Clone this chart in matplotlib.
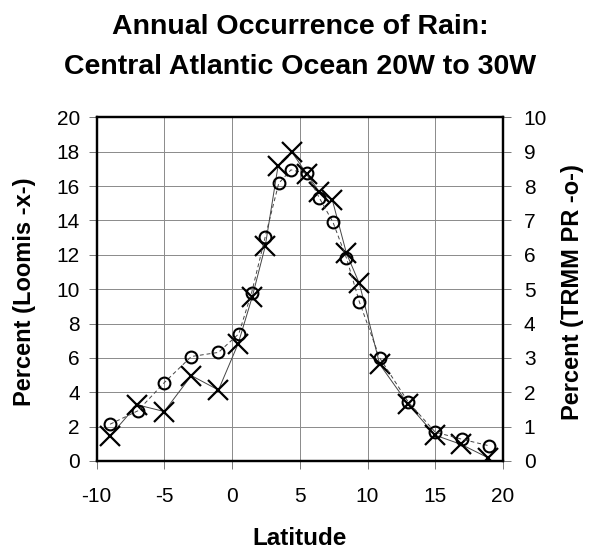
import numpy as np
import matplotlib
matplotlib.use('Agg')
import matplotlib.pyplot as plt

plt.rcParams['font.family'] = ['Liberation Sans', 'DejaVu Sans']
plt.rcParams['axes.unicode_minus'] = False

# Loomis (left axis, percent)
lat_loomis = [-9, -7, -5, -3, -1, 0.45, 1.5, 2.45, 3.4, 4.4,
              5.5, 6.45, 7.4, 8.45, 9.4, 10.9, 13, 15, 16.9, 18.9]
pct_loomis = [1.46, 3.27, 2.88, 4.97, 4.13, 6.82, 9.57, 12.49, 17.17, 18.0,
              16.72, 15.65, 15.2, 12.08, 10.33, 5.63, 3.3, 1.5, 0.97, 0.19]

# TRMM PR (right axis, percent)
lat_trmm = [-9, -6.95, -5, -3, -1, 0.5, 1.45, 2.45, 3.45, 4.35,
            5.5, 6.45, 7.45, 8.45, 9.4, 10.9, 13, 15, 17, 19]
pct_trmm = [1.07, 1.46, 2.28, 3.04, 3.16, 3.7, 4.9, 6.52, 8.08, 8.47,
            8.37, 7.65, 6.95, 5.9, 4.63, 3.0, 1.72, 0.84, 0.63, 0.44]

x_ticks = [-10, -5, 0, 5, 10, 15, 20]
left_ticks = list(range(0, 21, 2))
right_ticks = list(range(0, 11, 1))

fig = plt.figure(figsize=(5.9, 5.5), dpi=100)
ax = fig.add_axes([96.5/590, 1-461/550, (503-96.5)/590, (461-117.3)/550])
ax2 = ax.twinx()

ax.plot(lat_loomis, pct_loomis, color='#444444', lw=0.7, ls='-',
        marker='x', ms=14, mew=1.6, mec='black', zorder=3)
ax2.plot(lat_trmm, pct_trmm, color='#444444', lw=0.7, ls=(0, (4, 3)),
         marker='o', ms=8.5, mew=1.5, mec='black', mfc='none', zorder=3)

ax.set_xlim(-10, 20)
ax.set_ylim(0, 20)
ax2.set_ylim(0, 10)
ax.set_xticks(x_ticks)
ax.set_yticks(left_ticks)
ax2.set_yticks(right_ticks)

ax.grid(True, color='#8a8a8a', lw=0.7)
ax.set_axisbelow(True)

for a in (ax, ax2):
    for s in a.spines.values():
        s.set_linewidth(1.6)
        s.set_color('black')
ax.tick_params(axis='x', length=6, width=0.7, color='#777777', pad=13, labelsize=15)
ax.tick_params(axis='y', length=6, width=0.7, color='#777777', pad=6, labelsize=15)
ax2.tick_params(axis='y', length=6, width=0.7, color='#777777', pad=9, labelsize=15)

fig.text(25/590, 1-292/550, 'Percent (Loomis -x-)', rotation=90, ha='center', va='center',
         fontsize=17, fontweight='bold')
fig.text(573/590, 1-292/550, 'Percent (TRMM PR -o-)', rotation=90, ha='center', va='center',
         fontsize=17, fontweight='bold')
fig.text(300/590, 1-545/550, 'Latitude', ha='center', va='baseline',
         fontsize=17.5, fontweight='bold')

fig.text(300/590, 1-34/550, 'Annual Occurrence of Rain:', ha='center', va='baseline',
         fontsize=20.5, fontweight='bold')
fig.text(300/590, 1-74/550, 'Central Atlantic Ocean 20W to 30W', ha='center', va='baseline',
         fontsize=20.5, fontweight='bold')

fig.savefig('out.png', dpi=100)
